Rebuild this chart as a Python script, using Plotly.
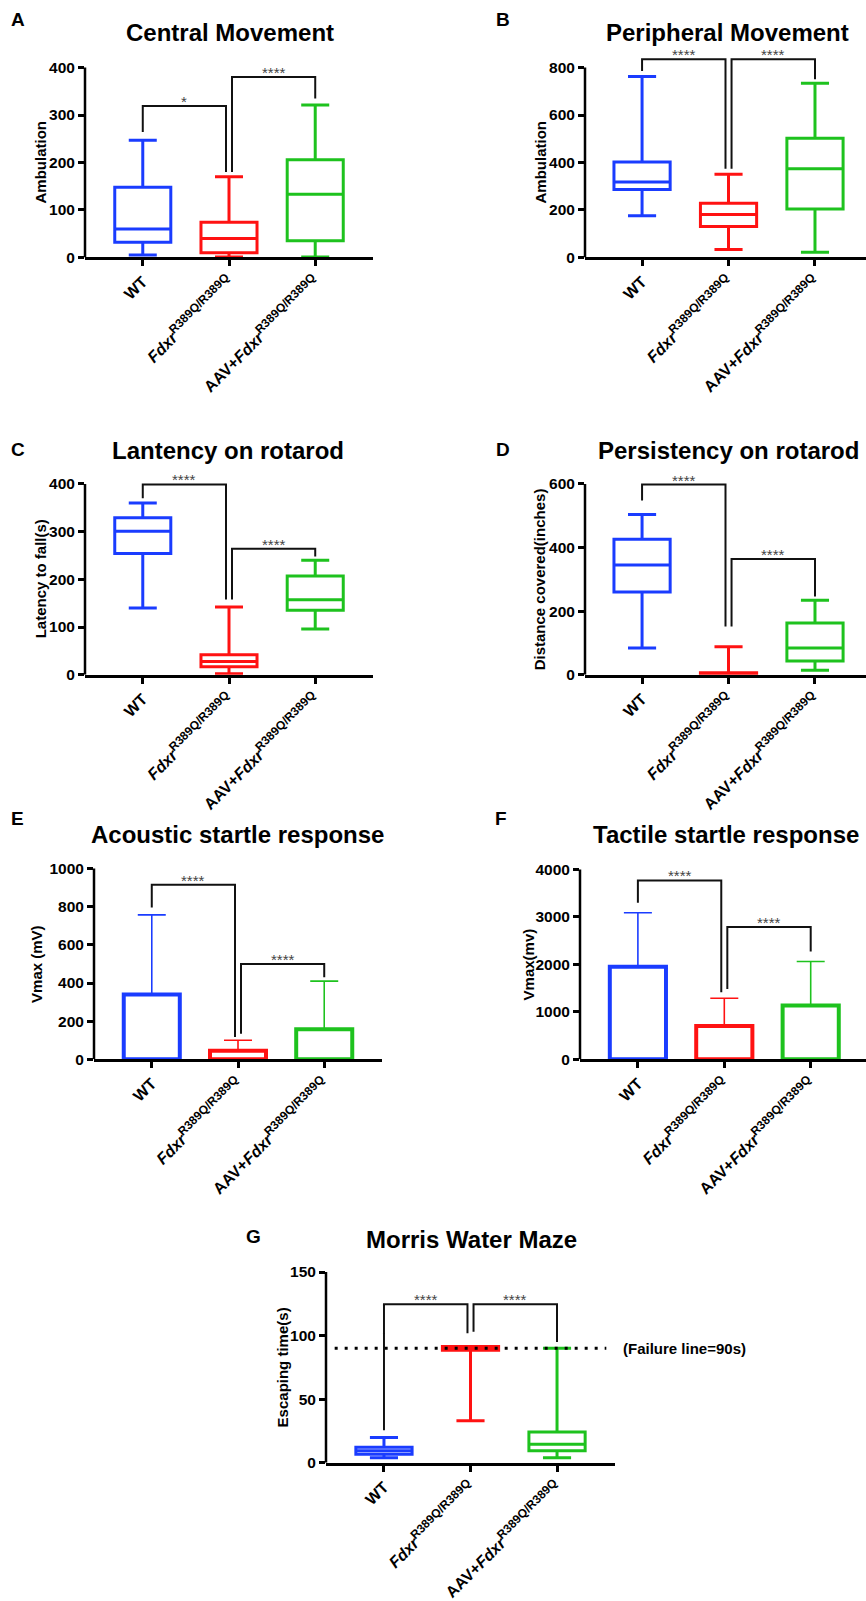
import plotly.graph_objects as go

W, H = 866, 1601
SUP = "<sup><span style='font-size:12px'>R389Q/R389Q</span></sup>"
GROUPS = ["WT", "<i>Fdxr</i>" + SUP, "AAV+<i>Fdxr</i>" + SUP]
COLORS = ["#1a3cff", "#ff1212", "#1ec21e"]
FONT = "Arial, 'Liberation Sans', sans-serif"

# ---------------- data ----------------
# Box panels: lower whisker, q1, median, q3, upper whisker (per group)
A_low = [5, 1, 1]
A_q1 = [32, 10, 35]
A_med = [60, 40, 133]
A_q3 = [148, 74, 206]
A_high = [247, 170, 321]

B_low = [175, 33, 22]
B_q1 = [286, 130, 204]
B_med = [318, 181, 374]
B_q3 = [402, 228, 502]
B_high = [762, 350, 734]

C_low = [140, 2, 96]
C_q1 = [254, 17, 135]
C_med = [301, 28, 157]
C_q3 = [329, 42, 207]
C_high = [360, 142, 240]

D_low = [84, 0, 14]
D_q1 = [260, 0, 43]
D_med = [345, 3, 84]
D_q3 = [426, 6, 163]
D_high = [504, 88, 234]

# Bar panels: mean and SD (upper error only)
E_mean = [340, 45, 158]
E_sd = [417, 55, 252]

F_mean = [1950, 705, 1133]
F_sd = [1140, 583, 930]

G_low = [4, 33, 4]
G_q1 = [6.8, 88.5, 9.4]
G_med = [9.4, 90, 14.6]
G_q3 = [12.2, 91.5, 24.2]
G_high = [19.8, 91.5, 90]
FAILURE_LINE = 90

# y tick values
A_yticks = [0, 100, 200, 300, 400]
B_yticks = [0, 200, 400, 600, 800]
C_yticks = [0, 100, 200, 300, 400]
D_yticks = [0, 200, 400, 600]
E_yticks = [0, 200, 400, 600, 800, 1000]
F_yticks = [0, 1000, 2000, 3000, 4000]
G_yticks = [0, 50, 100, 150]

# significance brackets: (group_a, group_b, bar height, end a, end b, label)
A_sig = [(0, 1, 319, 264, 180, "*"), (1, 2, 380, 180, 335, "****")]
B_sig = [(0, 1, 835, 786, 374, "****"), (1, 2, 835, 374, 751, "****")]
C_sig = [(0, 1, 399, 370, 158, "****"), (1, 2, 264, 158, 248, "****")]
D_sig = [(0, 1, 598, 548, 152, "****"), (1, 2, 364, 152, 246, "****")]
E_sig = [(0, 1, 915, 796, 117, "****"), (1, 2, 500, 134, 430, "****")]
F_sig = [(0, 1, 3769, 3300, 1413, "****"), (1, 2, 2790, 1482, 2273, "****")]
G_sig = [(0, 1, 124.7, 25.5, 101.8, "****"), (1, 2, 124.7, 103, 95, "****")]

# ---------------- layout / style ----------------
PANELS = [
    dict(lab="A", title="Central Movement", ytitle="Ambulation", kind="box",
         data=(A_low, A_q1, A_med, A_q3, A_high), yticks=A_yticks, sig=A_sig,
         xpx=(85, 373), ypx=(259, 68), xr=(-0.67, 2.67), tpos=(230, 33), lpos=(18, 20), ytx=40),
    dict(lab="B", title="Peripheral Movement", ytitle="Ambulation", kind="box",
         data=(B_low, B_q1, B_med, B_q3, B_high), yticks=B_yticks, sig=B_sig,
         xpx=(585, 866), ypx=(259, 68), xr=(-0.66, 2.59), tpos=(727, 33), lpos=(503, 20), ytx=540),
    dict(lab="C", title="Lantency on rotarod", ytitle="Latency to fall(s)", kind="box",
         data=(C_low, C_q1, C_med, C_q3, C_high), yticks=C_yticks, sig=C_sig,
         xpx=(85, 373), ypx=(679, 487), xr=(-0.67, 2.67), tpos=(228, 453), lpos=(18, 452), ytx=40),
    dict(lab="D", title="Persistency on rotarod", ytitle="Distance covered(inches)", kind="box",
         data=(D_low, D_q1, D_med, D_q3, D_high), yticks=D_yticks, sig=D_sig,
         xpx=(585, 866), ypx=(679, 487), xr=(-0.66, 2.59), tpos=(728, 453), lpos=(503, 452), ytx=539),
    dict(lab="E", title="Acoustic startle response", ytitle="Vmax (mV)", kind="bar",
         data=(E_mean, E_sd), yticks=E_yticks, sig=E_sig,
         xpx=(94, 382), ypx=(1066, 874), xr=(-0.67, 2.67), tpos=(237, 840), lpos=(17, 824), ytx=37),
    dict(lab="F", title="Tactile startle response", ytitle="Vmax(mv)", kind="bar",
         data=(F_mean, F_sd), yticks=F_yticks, sig=F_sig,
         xpx=(580, 866), ypx=(1066, 875), xr=(-0.67, 2.64), tpos=(726, 840), lpos=(501, 824), ytx=528),
    dict(lab="G", title="Morris Water Maze", ytitle="Escaping time(s)", kind="box",
         data=(G_low, G_q1, G_med, G_q3, G_high), yticks=G_yticks, sig=G_sig,
         xpx=(326, 615), ypx=(1472, 1280), xr=(-0.67, 2.67), tpos=(471, 1247), lpos=(254, 1244), ytx=282),
]

EXT = 1.1
OFF = 0.035
fig = go.Figure()
layout = {}
annotations = []
shapes = []

for n, p in enumerate(PANELS, start=1):
    sfx = "" if n == 1 else str(n)
    xa, ya = "x" + sfx, "y" + sfx
    x0, x1 = p["xpx"]
    yz, yt = p["ypx"]
    ytop = p["yticks"][-1]
    top_px = yz - (yz - yt) * EXT
    layout["xaxis" + sfx] = dict(
        domain=[x0 / W, x1 / W], range=list(p["xr"]), anchor=ya,
        tickmode="array", tickvals=[0, 1, 2], ticktext=GROUPS, tickangle=-45,
        showline=True, linewidth=2.5, linecolor="black",
        ticks="outside", ticklen=6, tickwidth=2.5, tickcolor="black",
        tickfont=dict(size=16, family=FONT, color="black", weight="bold"),
        showgrid=False, zeroline=False, fixedrange=True)
    layout["yaxis" + sfx] = dict(
        domain=[1 - yz / H, 1 - top_px / H], range=[0, ytop * EXT], anchor=xa,
        tickmode="array", tickvals=p["yticks"],
        showline=False, ticks="outside", ticklen=6, tickwidth=2.5, tickcolor="black",
        tickfont=dict(size=15.5, family=FONT, color="black", weight="bold"),
        showgrid=False, zeroline=False, fixedrange=True)
    # y axis line from 0 to top tick
    shapes.append(dict(type="line", xref=xa + " domain", yref=ya, x0=0, x1=0, y0=0, y1=ytop,
                       line=dict(color="black", width=2.5), layer="above"))

    if p["kind"] == "box":
        lo, q1, md, q3, hi = p["data"]
        for i in range(3):
            fig.add_trace(go.Box(
                x=[i], lowerfence=[lo[i]], q1=[q1[i]], median=[md[i]], q3=[q3[i]], upperfence=[hi[i]],
                width=0.65, whiskerwidth=0.5, line=dict(color=COLORS[i], width=3),
                fillcolor="rgba(255,255,255,0)", boxpoints=False, xaxis=xa, yaxis=ya,
                hoverinfo="skip"))
    else:
        mean, sd = p["data"]
        for i in range(3):
            fig.add_trace(go.Bar(
                x=[i], y=[mean[i]], width=0.65,
                marker=dict(color="white", line=dict(color=COLORS[i], width=4)),
                error_y=dict(type="data", symmetric=False, array=[sd[i]], arrayminus=[0],
                             color=COLORS[i], thickness=1.6, width=14),
                xaxis=xa, yaxis=ya, hoverinfo="skip"))

    for (ga, gb, ybar, yea, yeb, lab) in p["sig"]:
        xl = ga + (OFF if ga == 1 else 0)
        xr_ = gb - (OFF if gb == 1 else 0)
        fig.add_trace(go.Scatter(
            x=[xl, xl, xr_, xr_], y=[yea, ybar, ybar, yeb], mode="lines",
            line=dict(color="#111111", width=2), xaxis=xa, yaxis=ya,
            hoverinfo="skip", cliponaxis=False))
        annotations.append(dict(x=(xl + xr_) / 2, y=ybar, xref=xa, yref=ya, text=lab,
                                showarrow=False, yanchor="bottom", yshift=-6,
                                font=dict(size=15, family=FONT, color="#444444")))

    # titles and labels (paper coordinates)
    tx, ty = p["tpos"]
    annotations.append(dict(x=tx / W, y=1 - ty / H, xref="paper", yref="paper", text=p["title"],
                            showarrow=False, xanchor="center", yanchor="middle",
                            font=dict(size=24, family=FONT, color="black", weight="bold")))
    lx, ly = p["lpos"]
    annotations.append(dict(x=lx / W, y=1 - ly / H, xref="paper", yref="paper", text=p["lab"],
                            showarrow=False, xanchor="center", yanchor="middle",
                            font=dict(size=19, family=FONT, color="black", weight="bold")))
    annotations.append(dict(x=p["ytx"] / W, y=1 - (yz + yt) / 2 / H, xref="paper", yref="paper",
                            text=p["ytitle"], textangle=-90, showarrow=False,
                            xanchor="center", yanchor="middle",
                            font=dict(size=15, family=FONT, color="black", weight="bold")))

    if p["lab"] == "G":
        shapes.append(dict(type="line", xref=xa + " domain", yref=ya, x0=0.03, x1=0.97,
                           y0=FAILURE_LINE, y1=FAILURE_LINE,
                           line=dict(color="black", width=3, dash="3px,7px"), layer="above"))
        annotations.append(dict(x=1.02, y=FAILURE_LINE, xref=xa + " domain", yref=ya,
                                text="(Failure line=90s)", showarrow=False,
                                xanchor="left", yanchor="middle",
                                font=dict(size=15, family=FONT, color="black", weight="bold")))

fig.update_layout(**layout)
fig.update_layout(width=W, height=H, margin=dict(l=0, r=0, t=0, b=0),
                  paper_bgcolor="white", plot_bgcolor="white", showlegend=False,
                  boxmode="overlay", barmode="overlay",
                  annotations=annotations, shapes=shapes)

fig.write_html("out.html", config={"displayModeBar": False},
               post_script="document.body.style.margin='0px';document.body.style.overflow='hidden';")
